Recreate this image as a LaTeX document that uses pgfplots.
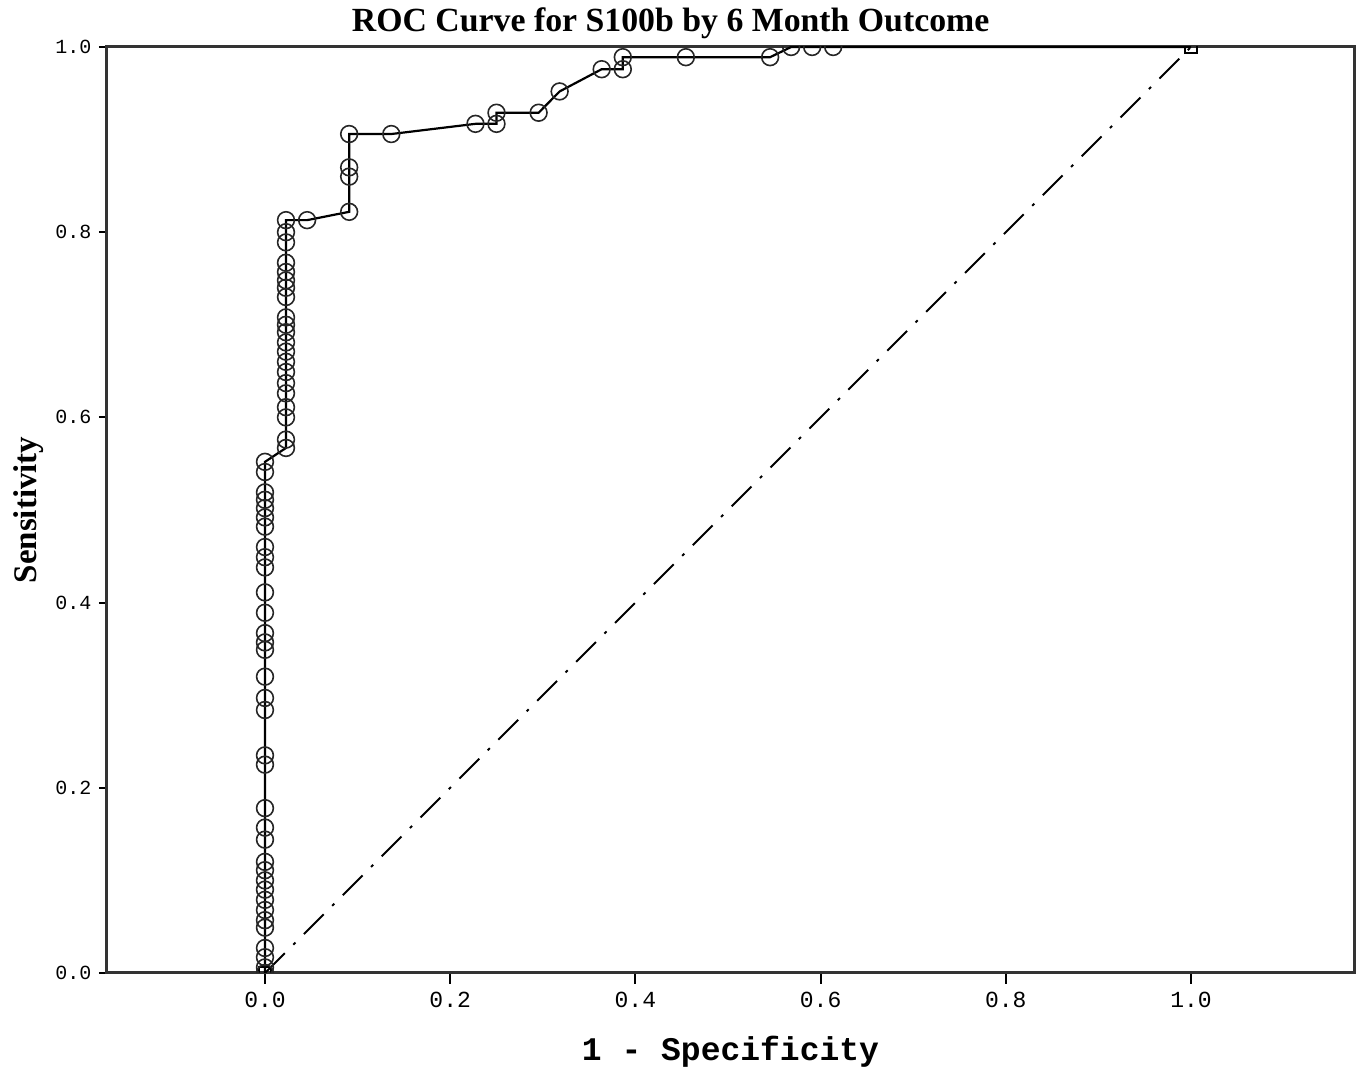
\documentclass[border=0pt]{standalone}
\usepackage{pgfplots}
\pgfplotsset{compat=1.18}
\usepackage{pgfplotstable}
\usepackage{fontspec}
\setmainfont{Liberation Serif}
\setmonofont{Liberation Mono}

\pgfplotstableread{
x y
0 0
0 0.006
0 0.017
0 0.027
0 0.049
0 0.057
0 0.068
0 0.079
0 0.090
0 0.100
0 0.111
0 0.120
0 0.144
0 0.157
0 0.178
0 0.225
0 0.235
0 0.284
0 0.297
0 0.320
0 0.349
0 0.357
0 0.367
0 0.389
0 0.411
0 0.438
0 0.449
0 0.460
0 0.482
0 0.492
0 0.502
0 0.511
0 0.519
0 0.541
0 0.552
0.0227 0.567
0.0227 0.576
0.0227 0.600
0.0227 0.611
0.0227 0.626
0.0227 0.637
0.0227 0.649
0.0227 0.660
0.0227 0.671
0.0227 0.681
0.0227 0.692
0.0227 0.700
0.0227 0.708
0.0227 0.730
0.0227 0.740
0.0227 0.748
0.0227 0.757
0.0227 0.767
0.0227 0.789
0.0227 0.800
0.0227 0.813
0.0455 0.813
0.0909 0.822
0.0909 0.860
0.0909 0.870
0.0909 0.906
0.1364 0.906
0.2273 0.917
0.2500 0.917
0.2500 0.929
0.2955 0.929
0.3182 0.952
0.3636 0.976
0.3864 0.976
0.3864 0.989
0.4545 0.989
0.5455 0.989
0.5682 1
0.5909 1
0.6136 1
1 1
}\roc

\pgfplotstableread{
x y
0 0
1 1
}\diag

\begin{document}
\begin{tikzpicture}
\path[use as bounding box] (-53.5pt,-50.5pt) rectangle (627.5pt,486.5pt);
\begin{axis}[
  name=ax,
  at={(0,0)}, anchor=south west,
  scale only axis,
  width=623.5pt, height=463pt,
  xmin=-0.1706, xmax=1.176,
  ymin=0, ymax=1,
  xtick={0,0.2,0.4,0.6,0.8,1.0},
  ytick={0,0.2,0.4,0.6,0.8,1.0},
  /pgf/number format/.cd, fixed, fixed zerofill, precision=1, assume math mode=true,
  /pgfplots/.cd,
  tick align=outside,
  xtick pos=bottom, ytick pos=left,
  xtick style={black, line width=1pt, /pgfplots/major tick length=5.5pt},
  ytick style={black, line width=1pt, /pgfplots/major tick length=4pt},
  xticklabel style={font=\ttfamily\fontsize{11.5}{12}\selectfont, yshift=-2pt},
  yticklabel style={font=\ttfamily\fontsize{10}{12}\selectfont},
  axis line style={black!80, line width=1.5pt},
  clip marker paths=true,
  xlabel={\ttfamily\bfseries\fontsize{16.5}{18}\selectfont 1 - Specificity},
  xlabel style={yshift=-7pt},
  ylabel={\bfseries\fontsize{16.5}{18}\selectfont Sensitivity},
  ylabel style={yshift=-1pt},
]
\addplot[black, line width=1pt, dash pattern=on 14pt off 6pt on 1.5pt off 6pt] table[x=x,y=y] {\diag};
\addplot[only marks, mark=square, mark size=3pt, mark options={solid, line width=0.9pt, black}] table[x=x,y=y] {\diag};
\addplot[black, line width=1.1pt, no marks] table[x=x,y=y] {\roc};
\addplot[only marks, mark=o, mark size=4.2pt, mark options={black!85, line width=0.8pt}, skip coords between index={75}{76}] table[x=x,y=y] {\roc};
\end{axis}
\path (ax.north west) -- (ax.north east) node[pos=0.452, yshift=12pt, anchor=center, inner sep=0pt, font=\bfseries\fontsize{16.9}{18}\selectfont] {ROC Curve for S100b by 6 Month Outcome};
\end{tikzpicture}
\end{document}
